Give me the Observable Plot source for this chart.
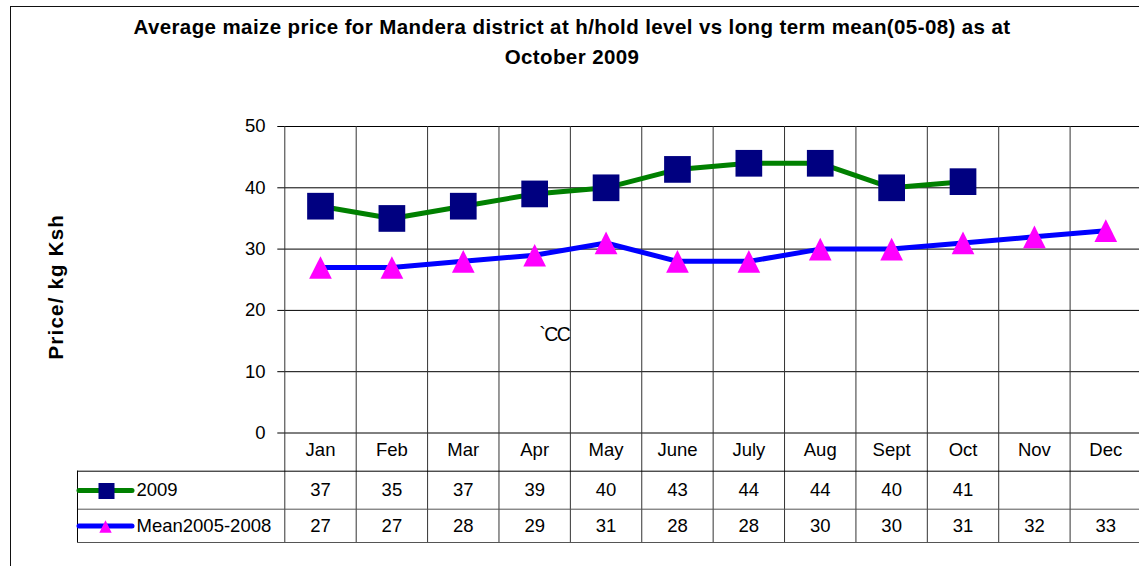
<!DOCTYPE html>
<html><head><meta charset="utf-8">
<script src="https://cdn.jsdelivr.net/npm/d3@7"></script>
<script src="https://cdn.jsdelivr.net/npm/@observablehq/plot@0.6"></script>
<style>
html,body{margin:0;padding:0;background:#fff;overflow:hidden}
#wrap{position:relative;width:1139px;height:566px;overflow:hidden;font-family:"Liberation Sans",Arial,sans-serif}
#frame{position:absolute;left:10px;top:6px;width:1300px;height:700px;border-left:1px solid #111;border-top:1px solid #111}
#title{position:absolute;top:12px;left:0;width:1144px;text-align:center;font-weight:bold;font-size:20.5px;line-height:30px;letter-spacing:0.4px;color:#000}
#chart{position:absolute;left:0;top:80px}
</style></head>
<body>
<div id="wrap">
  <div id="frame"></div>
  <div id="title">Average maize price for Mandera district at h/hold level vs long term mean(05-08) as at<br>October 2009</div>
  <div id="chart"></div>
</div>
<script>
const months = ["Jan","Feb","Mar","Apr","May","June","July","Aug","Sept","Oct","Nov","Dec"];
const price2009 = [37,35,37,39,40,43,44,44,40,41,null,null];
const mean0508 = [27,27,28,29,31,28,28,30,30,31,32,33];
const yTicks = [0,10,20,30,40,50];
const seriesNames = ["2009","Mean2005-2008"];
const yLabel = "Price/ kg Ksh";
const note = "`CC";

const rows = months.map((m, i) => ({m, x: i + 0.5, a: price2009[i], b: mean0508[i]}));
const rowsA = rows.filter(d => d.a != null);

const square = {draw(ctx, size) {const r = Math.sqrt(size / Math.PI); ctx.moveTo(-r, -r); ctx.lineTo(r, -r); ctx.lineTo(r, r); ctx.lineTo(-r, r); ctx.closePath();}};
const triangle = {draw(ctx, size) {const r = Math.sqrt(size / Math.PI); ctx.moveTo(0, -r); ctx.lineTo(r, r); ctx.lineTo(-r, r); ctx.closePath();}};

const green = "#008000", navy = "#000080", blue = "#0000ff", magenta = "#ff00ff";

const chart = Plot.plot({
  width: 1139, height: 486,
  marginLeft: 284.3, marginRight: -2, marginTop: 46, marginBottom: 133.5,
  x: {domain: [0, 12], axis: null},
  y: {domain: [0, 50], axis: null},
  style: {fontFamily: '"Liberation Sans", Arial, sans-serif', fontSize: "18.5px", color: "#000", background: "transparent", overflow: "visible"},
  marks: [
    Plot.ruleY(yTicks, {y: d => d, stroke: "#000", strokeOpacity: 1, insetLeft: -7}),
    Plot.ruleX(d3.range(13), {x: d => d, stroke: "#333", strokeOpacity: 1, insetBottom: -109.5}),
    Plot.ruleY([0], {y: 0, dy: 38.2, stroke: "#000", strokeOpacity: 1, insetLeft: -207.3}),
    Plot.ruleY([0], {y: 0, dy: 76.2, stroke: "#555", strokeOpacity: 1, insetLeft: -207.3}),
    Plot.ruleY([0], {y: 0, dy: 109.5, stroke: "#555", strokeOpacity: 1, insetLeft: -207.3}),
    Plot.ruleX([0], {x: 0, dx: -207.3, stroke: "#000", strokeOpacity: 1, insetTop: 344.7, insetBottom: -109.5}),
    Plot.text(yTicks, {x: 0, y: d => d, text: d => String(d), textAnchor: "end", dx: -19.3}),
    Plot.text([yLabel], {frameAnchor: "left", text: d => d, rotate: -90, textAnchor: "middle", lineAnchor: "middle", dx: -228, dy: 7, fontWeight: "bold", fontSize: 20.5}),
    Plot.line(rowsA, {x: "x", y: "a", stroke: green, strokeWidth: 5}),
    Plot.line(rows, {x: "x", y: "b", stroke: blue, strokeWidth: 5}),
    Plot.dot(rowsA, {x: "x", y: "a", symbol: square, r: 13.35, fill: navy, stroke: "none"}),
    Plot.dot(rows, {x: "x", y: "b", symbol: triangle, r: 11.35, fill: magenta, stroke: "none"}),
    Plot.text([note], {x: 4, y: 16, text: d => d, textAnchor: "end", dx: -1, fontSize: 19.5}),
    Plot.text(rows, {x: "x", y: 0, text: "m", dy: 17.2}),
    Plot.text(rowsA, {x: "x", y: 0, text: d => String(d.a), dy: 57}),
    Plot.text(rows, {x: "x", y: 0, text: d => String(d.b), dy: 93.5}),
    Plot.ruleY([0], {y: 0, dy: 57.5, stroke: green, strokeWidth: 5, strokeLinecap: "round", insetLeft: -205.3, insetRight: 1009}),
    Plot.dot([seriesNames[0]], {frameAnchor: "bottom-left", dx: -178.3, dy: 58, symbol: square, r: 8, fill: navy, stroke: "none"}),
    Plot.text([seriesNames[0]], {frameAnchor: "bottom-left", text: d => d, textAnchor: "start", lineAnchor: "middle", dx: -148.3, dy: 57}),
    Plot.ruleY([0], {y: 0, dy: 93, stroke: blue, strokeWidth: 5, strokeLinecap: "round", insetLeft: -205.3, insetRight: 1009}),
    Plot.dot([seriesNames[1]], {frameAnchor: "bottom-left", dx: -179.3, dy: 93.5, symbol: triangle, r: 6.2, fill: magenta, stroke: "none"}),
    Plot.text([seriesNames[1]], {frameAnchor: "bottom-left", text: d => d, textAnchor: "start", lineAnchor: "middle", dx: -148.3, dy: 93.5})
  ]
});
d3.select(chart).selectAll("text").filter(function() { return this.textContent === yLabel; }).style("letter-spacing", "1.2px");
d3.select(chart).selectAll("text").filter(function() { return this.textContent === note; }).style("letter-spacing", "-1.5px");
document.getElementById("chart").appendChild(chart);
</script>
</body></html>
